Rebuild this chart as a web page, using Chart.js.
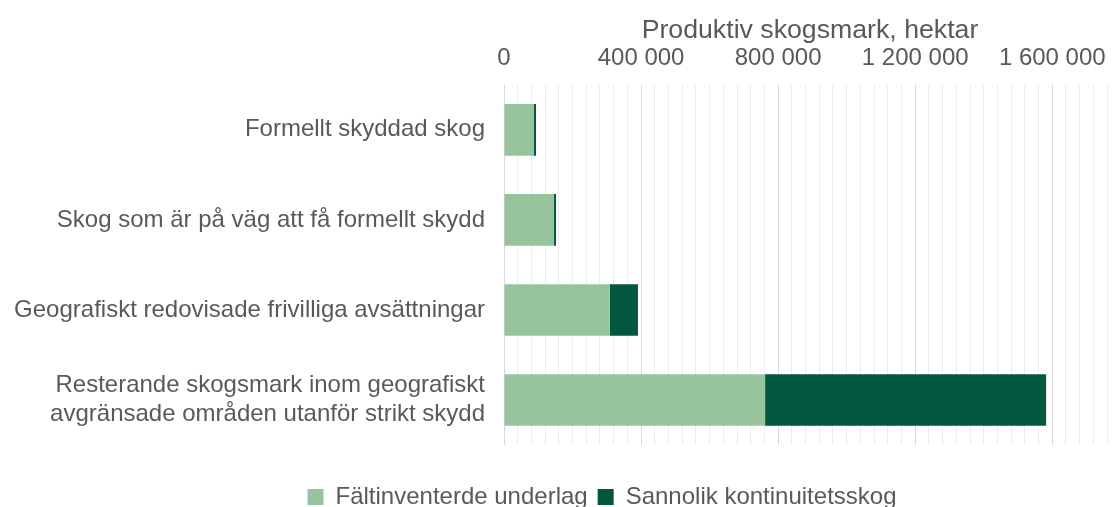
<!DOCTYPE html>
<html>
<head>
<meta charset="utf-8">
<script src="https://cdn.jsdelivr.net/npm/chart.js@4"></script>
<style>
html, body { margin: 0; padding: 0; background: #fff; }
#wrap { width: 1116px; height: 507px; }
</style>
</head>
<body>
<div id="wrap"><canvas id="chart" width="1116" height="507"></canvas></div>
<script>
var categories = [
  "Formellt skyddad skog",
  "Skog som är på väg att få formellt skydd",
  "Geografiskt redovisade frivilliga avsättningar",
  ["Resterande skogsmark inom geografiskt", "avgränsade områden utanför strikt skydd"]
];
var faltinventerat = [87600, 146000, 309000, 762000];
var kontinuitet = [5800, 5800, 82000, 820000];
var seriesNames = ["Fältinventerde underlag", "Sannolik kontinuitetsskog"];
var axisTitle = "Produktiv skogsmark, hektar";

var axisMax = 1786000; // axis runs past the right edge of the picture
var minorStep = 40000;
var majorStep = 400000;

Chart.defaults.font.family = '"Liberation Sans", Arial, sans-serif';
Chart.defaults.color = "#595959";

function fmt(v) {
  return String(v).replace(/\B(?=(\d{3})+(?!\d))/g, " ");
}

// legend sits a bit right of the canvas centre in the original
var legendShift = {
  id: "legendShift",
  afterLayout: function (chart) {
    chart.legend.left = 88;
  }
};

var ctx = document.getElementById("chart").getContext("2d");

const chart = new Chart(ctx, {
  type: "bar",
  data: {
    labels: categories,
    datasets: [
      {
        label: seriesNames[0],
        data: faltinventerat,
        backgroundColor: "#98c49d",
        barPercentage: 0.573,
        categoryPercentage: 1
      },
      {
        label: seriesNames[1],
        data: kontinuitet,
        backgroundColor: "#02573f",
        barPercentage: 0.573,
        categoryPercentage: 1
      }
    ]
  },
  plugins: [legendShift],
  options: {
    indexAxis: "y",
    responsive: false,
    animation: false,
    layout: { padding: { left: 0, right: 0, top: 0, bottom: -12 } },
    scales: {
      x: {
        position: "top",
        stacked: true,
        min: 0,
        max: axisMax,
        border: { display: false },
        grid: {
          drawTicks: false,
          color: function (c) {
            return c.tick && c.tick.value % majorStep === 0 ? "#d9d9d9" : "#ececec";
          }
        },
        afterBuildTicks: function (scale) {
          var t = [];
          for (var v = 0; v <= axisMax; v += minorStep) t.push({ value: v });
          scale.ticks = t;
        },
        ticks: {
          autoSkip: false,
          maxRotation: 0,
          padding: 12,
          font: { size: 24 },
          callback: function (v) {
            return v % majorStep === 0 ? fmt(v) : "";
          }
        },
        title: {
          display: true,
          text: axisTitle,
          font: { size: 26.7 },
          padding: { top: 15, bottom: -15 }
        },
        afterFit: function (scale) {
          scale.paddingLeft = 0;
          scale.paddingRight = 0;
        }
      },
      y: {
        stacked: true,
        grid: { display: false, drawTicks: false },
        border: { display: false },
        ticks: { padding: 19, font: { size: 24 } },
        afterFit: function (scale) {
          scale.width = 504;
        }
      }
    },
    plugins: {
      tooltip: { enabled: false },
      legend: {
        position: "bottom",
        title: { display: true, text: "", font: { size: 10 }, padding: { top: 18, bottom: 0 } },
        labels: {
          boxWidth: 16,
          boxHeight: 16,
          padding: 10,
          font: { size: 24 }
        }
      }
    }
  }
});
</script>
</body>
</html>
